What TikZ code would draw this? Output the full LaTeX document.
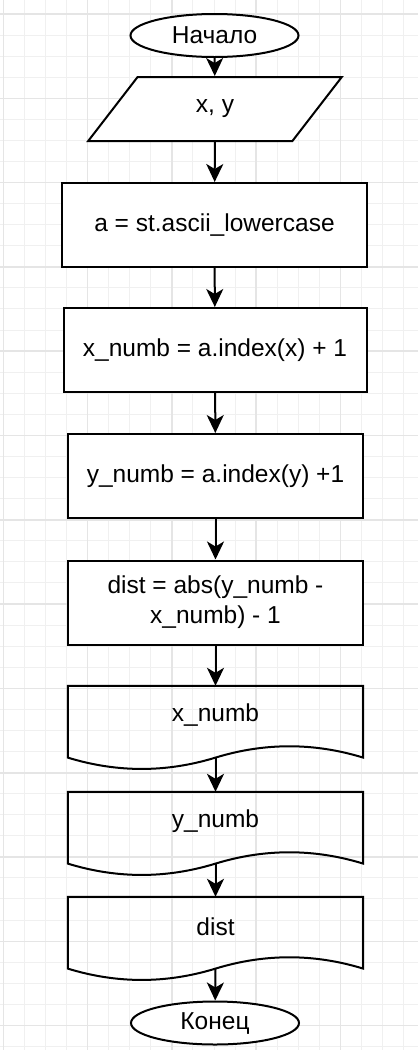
\documentclass[tikz,border=0pt]{standalone}
\usepackage{fontspec}
\setmainfont{Liberation Sans}
\usetikzlibrary{calc,shapes.geometric,arrows.meta}

% outline of a document block, wave below the label box
\newcommand{\drawdoc}[1]{%
  \draw[line width=2pt] (#1.north west) -- (#1.north east)
    -- ($(#1.south east)+(0,12.6)$)
    .. controls ($(#1.south east)+(-49.2,-2.5)$) and ($(#1.south)+(49.2,-2.5)$) .. ($(#1.south)+(0,12.6)$)
    .. controls ($(#1.south)+(-49.2,27.7)$) and ($(#1.south west)+(49.2,27.7)$) .. ($(#1.south west)+(0,12.6)$)
    -- cycle;
  \coordinate (#1_w) at ($(#1.south)+(0,12.6)$);
}

\begin{document}
\begin{tikzpicture}[x=1pt, y=-1pt, inner sep=0pt,
    every node/.style={font=\fontsize{24.5}{30}\selectfont},
    term/.style={ellipse, draw, line width=2pt, minimum width=168, minimum height=43},
    io/.style={trapezium, draw, line width=2pt, trapezium left angle=56, trapezium right angle=124,
      trapezium stretches, minimum width=254, minimum height=64},
    block/.style={draw, line width=2pt, minimum width=295, minimum height=84, align=center},
    doc/.style={minimum width=295, minimum height=58.8},
    arr/.style={-{Stealth[length=18pt, width=17pt, inset=5pt]}, line width=2pt}]
    \useasboundingbox (0,0) rectangle (418,1050);
    \fill[white] (0,0) rectangle (418,1050);

    % grid
    \foreach \i in {0,...,20}
      \draw[line width=1pt, black!6] (3.3+\i*21.07,0) -- (3.3+\i*21.07,1050);
    \foreach \i in {0,...,49}
      \draw[line width=1pt, black!6] (0,14+\i*21.07) -- (418,14+\i*21.07);
    \foreach \i in {0,...,4}
      \draw[line width=1.6pt, black!10] (3.3+\i*84.3,0) -- (3.3+\i*84.3,1050);
    \foreach \i in {0,...,12}
      \draw[line width=1.6pt, black!10] (0,14+\i*84.3) -- (418,14+\i*84.3);

    % start / input
    \node[term, fill=white] (start) at (214.5, 35.5) {Начало};
    \node[io, fill=white] (in_xy) at (215, 109) {x, y};

    % assignments
    \node[block, fill=white, minimum width=305] (alphabet) at (214.5, 225) {a = st.ascii\_lowercase};
    \node[block, fill=white, minimum width=303] (x_numb) at (215, 350) {x\_numb = a.index(x) + 1};
    \node[block, fill=white] (y_numb) at (215.5, 476) {y\_numb = a.index(y) +1};
    \node[block, fill=white] (dist) at (215.5, 602.5) {dist = abs(y\_numb -\\x\_numb) - 1};

    % output
    \node[doc] (out_x) at (215.5, 715.4) {};
    \drawdoc{out_x}
    \node at (out_x) {x\_numb};
    \node[doc] (out_y) at (215.5, 821.4) {};
    \drawdoc{out_y}
    \node at (out_y) {y\_numb};
    \node[doc] (out_dist) at (215.5, 926.4) {};
    \drawdoc{out_dist}
    \node at (out_dist) {dist};

    % end
    \node[term, fill=white] (finish) at (215, 1023) {Конец};

    % connectors
    \draw[arr] (start) -- (in_xy);
    \draw[arr] (in_xy) -- (alphabet);
    \draw[arr] (alphabet) -- (x_numb);
    \draw[arr] (x_numb) -- (y_numb);
    \draw[arr] (y_numb) -- (dist);
    \draw[arr] (dist) -- (out_x);
    \draw[arr] (out_x_w) -- (out_y.north);
    \draw[arr] (out_y_w) -- (out_dist.north);
    \draw[arr] (out_dist_w) -- (finish);

\end{tikzpicture}
\end{document}
